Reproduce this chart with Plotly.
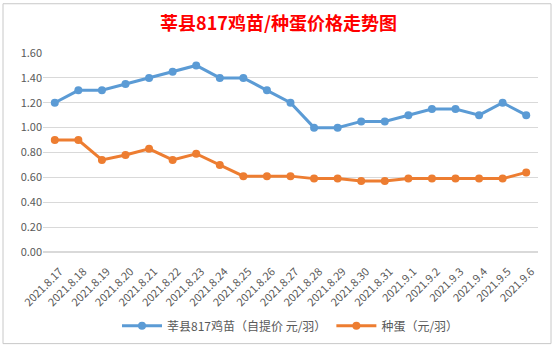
import plotly.graph_objects as go

dates = ["2021.8.17", "2021.8.18", "2021.8.19", "2021.8.20", "2021.8.21", "2021.8.22",
         "2021.8.23", "2021.8.24", "2021.8.25", "2021.8.26", "2021.8.27", "2021.8.28",
         "2021.8.29", "2021.8.30", "2021.8.31", "2021.9.1", "2021.9.2", "2021.9.3",
         "2021.9.4", "2021.9.5", "2021.9.6"]
chick = [1.20, 1.30, 1.30, 1.35, 1.40, 1.45, 1.50, 1.40, 1.40, 1.30, 1.20, 1.00,
         1.00, 1.05, 1.05, 1.10, 1.15, 1.15, 1.10, 1.20, 1.10]
egg = [0.90, 0.90, 0.74, 0.78, 0.83, 0.74, 0.79, 0.70, 0.61, 0.61, 0.61, 0.59,
       0.59, 0.57, 0.57, 0.59, 0.59, 0.59, 0.59, 0.59, 0.64]
y_ticks = [0.0, 0.2, 0.4, 0.6, 0.8, 1.0, 1.2, 1.4, 1.6]

font_cjk = "Noto Sans CJK SC, Noto Sans, sans-serif"

fig = go.Figure()
fig.add_trace(go.Scatter(x=dates, y=chick, mode="lines+markers",
                         name="莘县817鸡苗（自提价 元/羽）",
                         line=dict(color="#5B9BD5", width=3),
                         marker=dict(color="#5B9BD5", size=8)))
fig.add_trace(go.Scatter(x=dates, y=egg, mode="lines+markers",
                         name="种蛋（元/羽）",
                         line=dict(color="#ED7D31", width=3),
                         marker=dict(color="#ED7D31", size=8)))

fig.update_layout(
    width=557, height=352,
    margin=dict(l=43, r=19, t=53, b=97),
    paper_bgcolor="white", plot_bgcolor="white",
    title=dict(text="<b>莘县817鸡苗/种蛋价格走势图</b>", x=0.5, xanchor="center",
               y=0.932, yanchor="middle", yref="container",
               font=dict(family=font_cjk, size=18, color="#FF0000")),
    xaxis=dict(type="category", tickangle=-45, showgrid=False, showline=False,
               ticks="", tickfont=dict(family=font_cjk, size=11, color="#595959"),
               ticklabelstandoff=10, ticklabelshift=5,
               range=[-0.5, len(dates) - 0.5], automargin=False),
    yaxis=dict(range=[0, 1.6], tickvals=y_ticks, tickformat=".2f",
               showgrid=True, gridcolor="#D9D9D9", gridwidth=1, zeroline=True,
               zerolinecolor="#D9D9D9", showline=False, ticks="",
               tickfont=dict(family=font_cjk, size=11, color="#595959"),
               automargin=False),
    legend=dict(orientation="h", x=0.5, xanchor="center", y=-0.371, yanchor="middle",
                font=dict(family=font_cjk, size=12, color="#595959"),
                itemwidth=40, tracegroupgap=0),
    showlegend=True,
)

fig.add_shape(type="rect", xref="paper", yref="paper",
              x0=-40 / 495, x1=(551 - 43) / 495, y0=-(348 - 255) / 202, y1=(255 - 3) / 202,
              line=dict(color="#C8C8C8", width=1), fillcolor="rgba(0,0,0,0)", layer="below")

fig.write_html("out.html")
